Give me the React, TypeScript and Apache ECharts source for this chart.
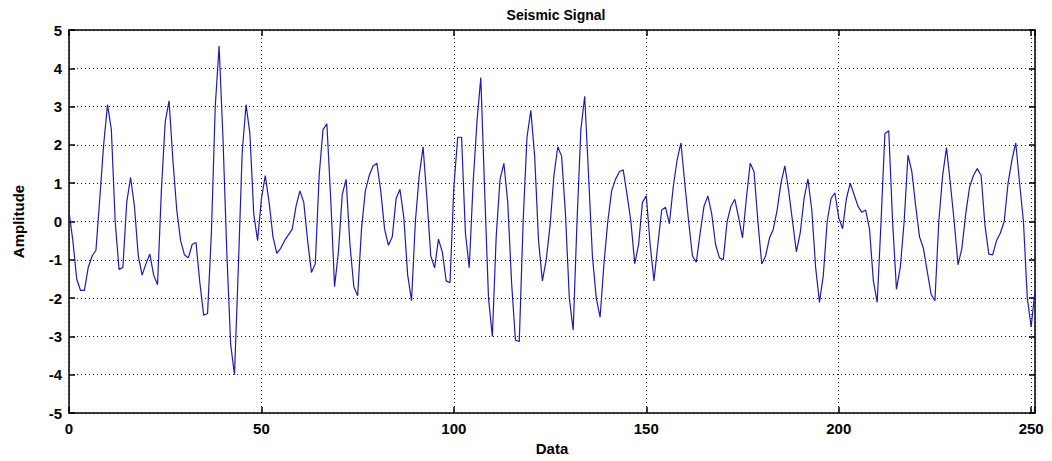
import React, { useEffect, useRef } from "react";
import * as echarts from "echarts";

const titleText = "Seismic Signal";
const xAxisLabel = "Data";
const yAxisLabel = "Amplitude";
const xTickValues = [0, 50, 100, 150, 200, 250];
const yTickValues = [-5, -4, -3, -2, -1, 0, 1, 2, 3, 4, 5];

const amplitude = [
  0.26, -0.5, -1.5, -1.8, -1.8, -1.2, -0.9, -0.75, 0.6, 2.0,
  3.05, 2.4, 0.0, -1.25, -1.2, 0.5, 1.15, 0.4, -0.9, -1.4,
  -1.1, -0.85, -1.4, -1.65, 0.8, 2.6, 3.15, 1.6, 0.3, -0.5,
  -0.87, -0.95, -0.6, -0.55, -1.6, -2.45, -2.4, -0.3, 3.0, 4.58,
  2.2, -0.8, -3.2, -4.0, -1.2, 1.8, 3.05, 2.3, 0.2, -0.5,
  0.6, 1.2, 0.5, -0.4, -0.83, -0.7, -0.5, -0.35, -0.2, 0.4,
  0.8, 0.5, -0.5, -1.33, -1.1, 1.2, 2.4, 2.55, 0.6, -1.7,
  -0.8, 0.7, 1.1, -0.6, -1.7, -1.94, -0.2, 0.8, 1.2, 1.45,
  1.52, 0.8, -0.2, -0.62, -0.4, 0.6, 0.84, 0.1, -1.4, -2.07,
  0.0, 1.2, 1.95, 0.6, -0.9, -1.21, -0.46, -0.8, -1.55, -1.6,
  0.9, 2.2, 2.2, -0.3, -1.21, 1.0, 2.6, 3.76, 0.8, -2.0,
  -3.0, -0.4, 1.1, 1.52, 0.5, -1.6, -3.1, -3.13, 0.0, 2.2,
  2.9, 1.7, -0.5, -1.55, -1.0, -0.1, 1.2, 1.95, 1.7, 0.2,
  -2.0, -2.84, 0.0, 2.4, 3.27, 1.2, -0.9, -2.0, -2.5, -1.1,
  0.0, 0.8, 1.1, 1.3, 1.35, 0.7, 0.0, -1.1, -0.6, 0.5,
  0.67, -0.6, -1.55, -0.6, 0.3, 0.37, -0.06, 0.9, 1.6, 2.05,
  1.0, 0.0, -0.9, -1.06, -0.3, 0.4, 0.67, 0.2, -0.6, -0.95,
  -1.0, 0.0, 0.4, 0.58, 0.1, -0.43, 0.6, 1.52, 1.3, 0.0,
  -1.11, -0.9, -0.44, -0.2, 0.3, 1.0, 1.45, 0.8, 0.0, -0.79,
  -0.3, 0.6, 1.11, 0.3, -1.2, -2.11, -1.4, 0.0, 0.6, 0.75,
  0.1, -0.19, 0.6, 1.0, 0.7, 0.4, 0.24, 0.3, -0.2, -1.55,
  -2.11, 0.0, 2.3, 2.37, 0.0, -1.77, -1.2, 0.0, 1.73, 1.3,
  0.4, -0.4, -0.7, -1.3, -1.9, -2.07, 0.0, 1.2, 1.93, 1.0,
  0.0, -1.13, -0.7, 0.2, 0.9, 1.2, 1.38, 1.2, -0.1, -0.85,
  -0.87, -0.5, -0.3, 0.0, 1.0, 1.6, 2.05, 1.0, 0.0, -2.0,
  -2.75, -1.8,
];

const FONT = "'Liberation Sans', Arial, sans-serif";

export default function App() {
  const ref = useRef<HTMLDivElement>(null);

  useEffect(() => {
    if (!ref.current) return;
    const chart = echarts.init(ref.current, undefined, { renderer: "svg" });
    const data = amplitude.map((v, i) => [i, v]);
    const xMax = amplitude.length - 1;

    const labelStyle = {
      color: "#000",
      fontFamily: FONT,
      fontWeight: "bold" as const,
      fontSize: 15,
    };
    const gridDots = { color: "#111", width: 1, type: [1, 3] as any };
    const axisLine = { show: true, onZero: false, lineStyle: { color: "#000", width: 1.5 } };
    const tick = { show: true, inside: true, length: 6, lineStyle: { color: "#000", width: 1.5 } };

    chart.setOption({
      animation: false,
      backgroundColor: "#fff",
      title: {
        text: titleText,
        left: 551,
        top: 3,
        textAlign: "center",
        textStyle: { color: "#000", fontFamily: FONT, fontWeight: "bold", fontSize: 14 },
      },
      grid: { left: 69, right: 17, top: 30, bottom: 43 },
      xAxis: [
        {
          type: "value",
          min: 0,
          max: xMax,
          interval: 50,
          position: "bottom",
          name: xAxisLabel,
          nameLocation: "middle",
          nameGap: 28,
          nameTextStyle: { ...labelStyle, fontSize: 15 },
          axisLine,
          axisTick: tick,
          axisLabel: {
            ...labelStyle,
            margin: 8,
            formatter: (v: number) => (xTickValues.includes(v) ? String(v) : ""),
          },
          splitLine: { show: true, lineStyle: gridDots },
        },
        {
          type: "value",
          min: 0,
          max: xMax,
          interval: 50,
          position: "top",
          axisLine,
          axisTick: tick,
          axisLabel: { show: false },
          splitLine: { show: false },
        },
      ],
      yAxis: [
        {
          type: "value",
          min: -5,
          max: 5,
          interval: 1,
          position: "left",
          name: yAxisLabel,
          nameLocation: "middle",
          nameGap: 43,
          nameTextStyle: { ...labelStyle, fontSize: 15 },
          axisLine,
          axisTick: tick,
          axisLabel: {
            ...labelStyle,
            margin: 7,
            formatter: (v: number) => (yTickValues.includes(v) ? String(v) : ""),
          },
          splitLine: { show: true, lineStyle: gridDots },
        },
        {
          type: "value",
          min: -5,
          max: 5,
          interval: 1,
          position: "right",
          axisLine,
          axisTick: tick,
          axisLabel: { show: false },
          splitLine: { show: false },
        },
      ],
      series: [
        {
          type: "line",
          data,
          xAxisIndex: 0,
          yAxisIndex: 0,
          showSymbol: false,
          symbol: "none",
          lineStyle: { color: "#1c1cb0", width: 1.2 },
        },
      ],
    });

    return () => chart.dispose();
  }, []);

  return (
    <div
      ref={ref}
      style={{ position: "absolute", left: 0, top: 0, width: 1052, height: 461 }}
    />
  );
}
